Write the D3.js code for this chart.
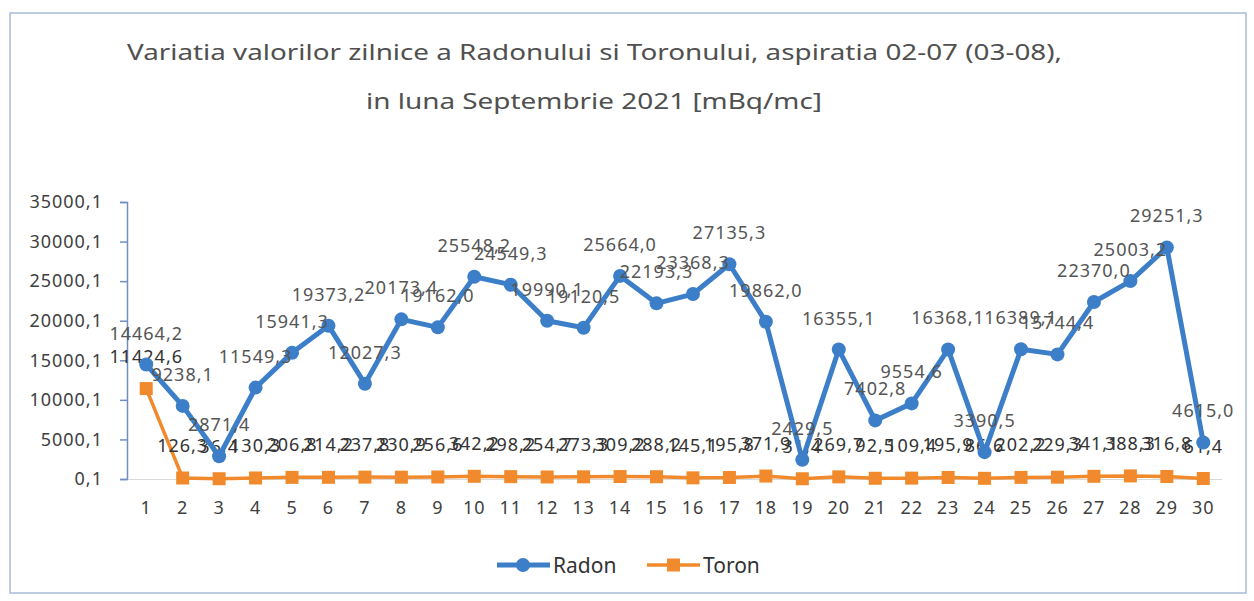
<!DOCTYPE html>
<html>
<head>
<meta charset="utf-8">
<script src="https://cdn.jsdelivr.net/npm/d3@7"></script>
<style>
  body { margin: 0; background: #fff; }
  text { font-family: "Noto Sans", "Open Sans", sans-serif; }
</style>
</head>
<body>
<svg id="chart" width="1254" height="601"></svg>
<script>
// days of the month
var days = d3.range(1, 31)

// Radon daily values [mBq/mc]
var radon = [14464.2, 9238.1, 2871.4, 11549.3, 15941.3, 19373.2, 12027.3, 20173.4, 19162.0, 25548.2,
             24549.3, 19990.1, 19120.5, 25664.0, 22193.3, 23368.3, 27135.3, 19862.0, 2429.5, 16355.1,
             7402.8, 9554.6, 16368.1, 3390.5, 16389.1, 15744.4, 22370.0, 25003.2, 29251.3, 4615.0]

// Toron daily values [mBq/mc]
var toron = [11424.6, 126.3, 36.4, 130.3, 206.8, 214.2, 237.8, 230.9, 256.6, 342.2,
             298.2, 254.7, 273.3, 309.2, 288.2, 145.1, 195.8, 371.9, 31.4, 269.7,
             92.5, 109.4, 195.9, 86.6, 202.2, 229.3, 341.1, 388.3, 316.8, 61.4]

var yTicks = [0.1, 5000.1, 10000.1, 15000.1, 20000.1, 25000.1, 30000.1, 35000.1]

var titleLines = ["Variatia valorilor zilnice a Radonului si Toronului, aspiratia 02-07 (03-08),",
                  "in luna Septembrie 2021 [mBq/mc]"]

var radonColor = "#3c7fc8",
    toronColor = "#f08a2c"

var fmt = function(v){ return d3.format(".1f")(v).replace(".", ",") }

var svg = d3.select("#chart")

// outer frame
svg.append("rect")
  .attr("x", 10).attr("y", 13)
  .attr("width", 1236).attr("height", 580)
  .attr("fill", "none")
  .attr("stroke", "#a9bcd9")
  .attr("stroke-width", 1.5)

// title
svg.selectAll(".title")
  .data(titleLines)
  .enter().append("text")
    .attr("class", "title")
    .attr("x", function(d, i){ return i == 0 ? 127 : 366 })
    .attr("y", function(d, i){ return i == 0 ? 60 : 109 })
    .attr("textLength", function(d, i){ return i == 0 ? 935 : 456 })
    .attr("lengthAdjust", "spacingAndGlyphs")
    .attr("font-size", 21)
    .attr("fill", "#505050")
    .text(function(d){ return d })

var x = d3.scaleBand().domain(days).range([128, 1221.5])
var y = d3.scaleLinear().domain([0.1, 35000.1]).range([479, 202])
var cx = function(d){ return x(d) + x.bandwidth() / 2 }

// x axis
var xAxis = svg.append("g")
  .attr("transform", "translate(0,479)")
  .call(d3.axisBottom(x).tickSize(0).tickPadding(22))
xAxis.select(".domain").attr("stroke", "#d9d9d9")
xAxis.selectAll("text")
  .attr("font-size", 18)
  .attr("fill", "#404040")
  .attr("font-family", "Noto Sans")
  .attr("letter-spacing", 1)

// y axis
var yAxis = svg.append("g")
  .attr("transform", "translate(127,0)")
  .call(d3.axisLeft(y).tickValues(yTicks).tickSize(7).tickPadding(17).tickFormat(fmt))
yAxis.select(".domain").attr("stroke", "#6f8fc4").attr("stroke-width", 1.5)
yAxis.selectAll(".tick line").attr("stroke", "#6f8fc4").attr("stroke-width", 1.5)
yAxis.selectAll("text")
  .attr("font-size", 18)
  .attr("fill", "#404040")
  .attr("font-family", "Noto Sans")
  .attr("letter-spacing", 1)

var line = d3.line()
  .x(function(d, i){ return cx(days[i]) })
  .y(function(d){ return y(d) })

// Toron series
svg.append("path")
  .datum(toron)
  .attr("d", line)
  .attr("fill", "none")
  .attr("stroke", toronColor)
  .attr("stroke-width", 3.5)

svg.selectAll(".toron-pt")
  .data(toron)
  .enter().append("rect")
    .attr("class", "toron-pt")
    .attr("x", function(d, i){ return cx(days[i]) - 6.5 })
    .attr("y", function(d){ return y(d) - 6.5 })
    .attr("width", 13).attr("height", 13)
    .attr("fill", toronColor)

svg.selectAll(".toron-lbl")
  .data(toron)
  .enter().append("text")
    .attr("class", "toron-lbl")
    .attr("x", function(d, i){ return cx(days[i]) })
    .attr("y", function(d){ return y(d) - 26 })
    .attr("text-anchor", "middle")
    .attr("font-size", 18)
    .attr("letter-spacing", 1)
    .attr("fill", "#333")
    .text(fmt)

// Radon series
svg.append("path")
  .datum(radon)
  .attr("d", line)
  .attr("fill", "none")
  .attr("stroke", radonColor)
  .attr("stroke-width", 5)
  .attr("stroke-linejoin", "round")

svg.selectAll(".radon-pt")
  .data(radon)
  .enter().append("circle")
    .attr("class", "radon-pt")
    .attr("cx", function(d, i){ return cx(days[i]) })
    .attr("cy", function(d){ return y(d) })
    .attr("r", 7)
    .attr("fill", radonColor)

svg.selectAll(".radon-lbl")
  .data(radon)
  .enter().append("text")
    .attr("class", "radon-lbl")
    .attr("x", function(d, i){ return cx(days[i]) })
    .attr("y", function(d){ return y(d) - 25 })
    .attr("text-anchor", "middle")
    .attr("font-size", 18)
    .attr("letter-spacing", 1)
    .attr("fill", "#555")
    .text(fmt)

// legend
var legend = svg.append("g").attr("transform", "translate(0,565)")
var items = [{name: "Radon", color: radonColor, x0: 497},
             {name: "Toron", color: toronColor, x0: 647}]

items.forEach(function(it, i){
  legend.append("line")
    .attr("x1", it.x0).attr("x2", it.x0 + 53)
    .attr("stroke", it.color)
    .attr("stroke-width", i == 0 ? 5 : 3.5)
  if (i == 0){
    legend.append("circle").attr("cx", it.x0 + 26).attr("r", 7).attr("fill", it.color)
  }else{
    legend.append("rect").attr("x", it.x0 + 20).attr("y", -6.5)
      .attr("width", 13).attr("height", 13).attr("fill", it.color)
  }
  legend.append("text")
    .attr("x", it.x0 + 56)
    .attr("y", 8)
    .attr("font-size", 21)
    .attr("fill", "#333")
    .text(it.name)
})
</script>
</body>
</html>
